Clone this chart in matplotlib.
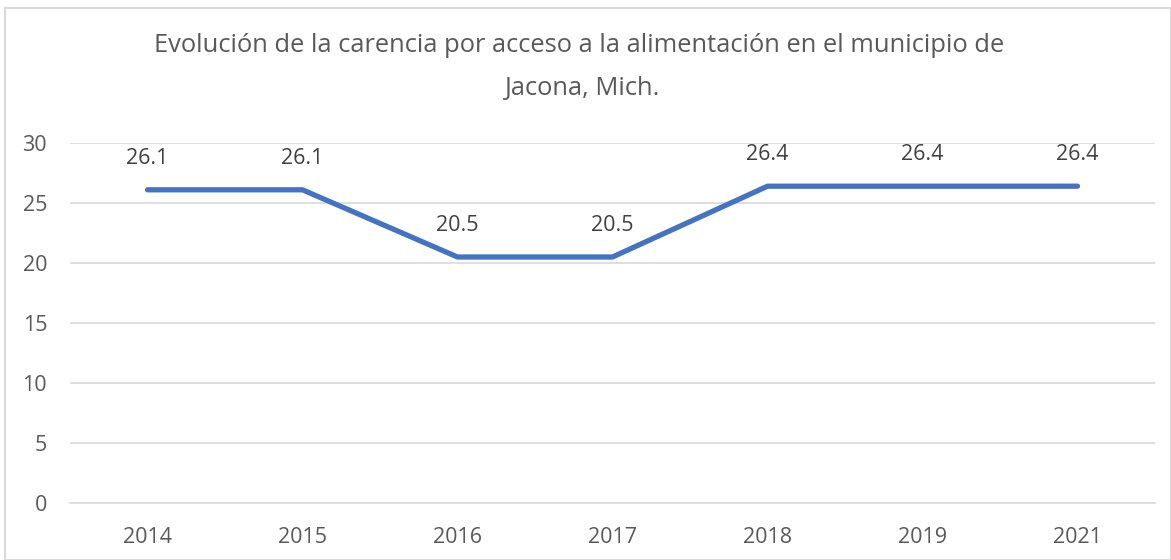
import matplotlib.pyplot as plt
import numpy as np

years = ['2014', '2015', '2016', '2017', '2018', '2019', '2021']
carencia = [26.1, 26.1, 20.5, 20.5, 26.4, 26.4, 26.4]
y_ticks = [0, 5, 10, 15, 20, 25, 30]

plt.rcParams['font.family'] = ['Open Sans', 'DejaVu Sans']
text_color = '#595959'

fig = plt.figure(figsize=(11.71, 5.6), dpi=100)
ax = fig.add_axes([70 / 1171, 57 / 560, 1085 / 1171, 360 / 560])

x = np.arange(len(years))
ax.plot(x, carencia, color='#4472C4', linewidth=3.8, solid_capstyle='round',
        solid_joinstyle='round', zorder=3)

for xi, v in zip(x, carencia):
    ax.annotate(f'{v:.1f}', (xi, v), xytext=(0, 15), textcoords='offset points',
                ha='center', va='bottom', fontsize=15.5, color='#404040')

ax.set_xlim(-0.5, len(years) - 0.5)
ax.set_ylim(0, 30)
ax.set_xticks(x)
ax.set_xticklabels(years)
ax.set_yticks(y_ticks)
ax.tick_params(axis='both', length=0, labelsize=15.5, labelcolor=text_color)
ax.tick_params(axis='y', pad=16.5)
ax.tick_params(axis='x', pad=17.5)
ax.grid(axis='y', color='#D9D9D9', linewidth=1.2)
ax.set_axisbelow(True)
for s in ['top', 'right', 'left']:
    ax.spines[s].set_visible(False)
ax.spines['bottom'].set_color('#D9D9D9')
ax.spines['bottom'].set_linewidth(1.2)

fig.text(579 / 1171, 1 - 45 / 560,
         'Evolución de la carencia por acceso a la alimentación en el municipio de',
         ha='center', va='center', fontsize=18.4, color=text_color)
fig.text(582 / 1171, 1 - 88 / 560, 'Jacona, Mich.',
         ha='center', va='center', fontsize=18.4, color=text_color)

# chart border
fig.add_artist(plt.Rectangle((5 / 1171, 0), 1 - 5 / 1171, 1 - 8 / 560,
                             transform=fig.transFigure, fill=False,
                             edgecolor='#D9D9D9', linewidth=1.5))

fig.savefig('out.png', dpi=100)
